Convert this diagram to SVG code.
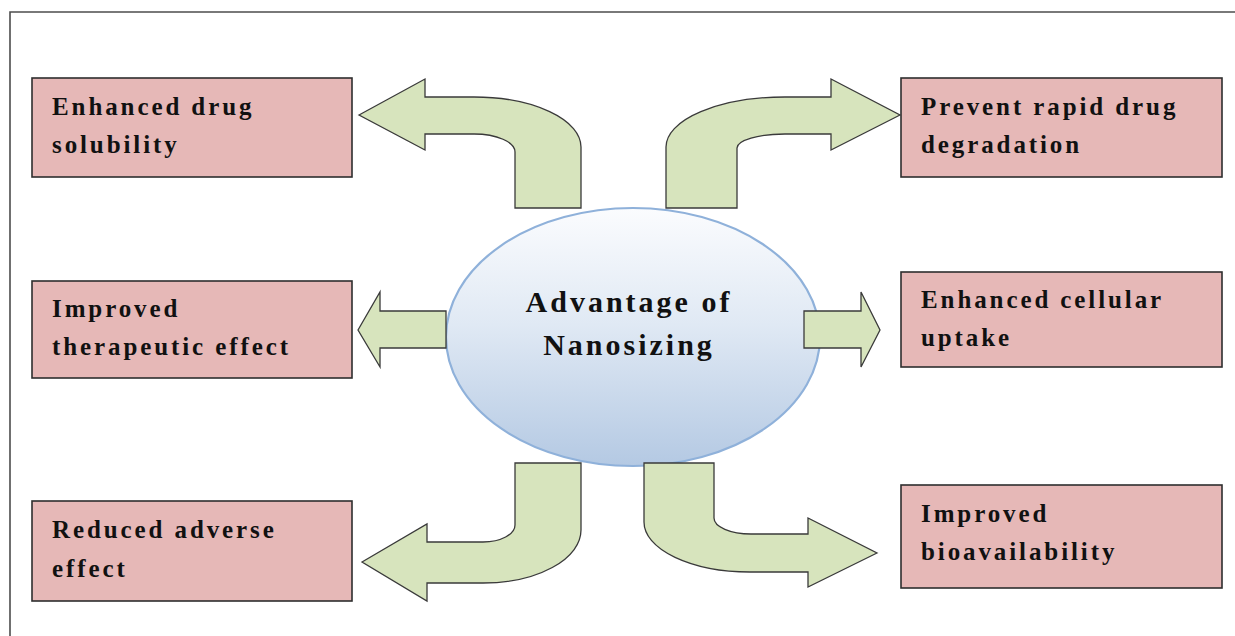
<svg xmlns="http://www.w3.org/2000/svg" width="1235" height="636" viewBox="0 0 1235 636">
  <defs>
    <linearGradient id="hubFill" x1="0" y1="0" x2="0" y2="1">
      <stop offset="0" stop-color="#fbfcfe"/>
      <stop offset="0.45" stop-color="#e0e9f4"/>
      <stop offset="1" stop-color="#b4c9e3"/>
    </linearGradient>
    <style>
      .frame { fill: none; stroke: #4d4d4d; stroke-width: 1.6; }
      .box { fill: #e6b8b7; stroke: #2e2e2e; stroke-width: 1.6; }
      .label { font-family: "Liberation Serif", "Times New Roman", serif; font-weight: bold; font-size: 25px; letter-spacing: 2.9px; fill: #111; }
      .hub { fill: url(#hubFill); stroke: #8fb1da; stroke-width: 2.2; }
      .hubText { font-family: "Liberation Serif", "Times New Roman", serif; font-weight: bold; font-size: 30px; letter-spacing: 3px; fill: #111; text-anchor: middle; }
      .arrow { fill: #d7e4bd; stroke: #3a3a3a; stroke-width: 1.3; stroke-linejoin: miter; }
    </style>
  </defs>

  <rect width="1235" height="636" fill="#ffffff"/>

  <!-- open frame: top and left rules -->
  <path class="frame" d="M10,636 L10,12 L1235,12"/>

  <!-- central hub -->
  <g id="hub">
    <ellipse class="hub" cx="633" cy="337" rx="187" ry="129"/>
  </g>

  <!-- block arrows from the hub to each benefit -->
  <g id="connectors">
    <path class="arrow" d="M359,115 L425,79 L425,97 L474,97 A107,50 0 0 1 581,147 L581,208 L515,208 L515,152 A41,18 0 0 0 474,134 L425,134 L425,150 Z"/>
    <path class="arrow" d="M900,115 L831,150 L831,134 L785,134 A48,14 0 0 0 737,148 L737,208 L666,208 L666,147 A119,50 0 0 1 785,97 L831,97 L831,79 Z"/>
    <path class="arrow" d="M358,330 L380,292 L380,311 L446,311 L446,348 L380,348 L380,367 Z"/>
    <path class="arrow" d="M880,330 L861,367 L861,348 L804,348 L804,311 L861,311 L861,292 Z"/>
    <path class="arrow" d="M362,562 L427,524 L427,542 L483,542 A32,17 0 0 0 515,525 L515,463 L581,463 L581,530 A98,53 0 0 1 483,583 L427,583 L427,601 Z"/>
    <path class="arrow" d="M877,553 L808,587 L808,572 L750,572 A106,50 0 0 1 644,522 L644,463 L714,463 L714,518 A37,16 0 0 0 751,534 L808,534 L808,518 Z"/>
  </g>

  <g id="hub-label">
    <text class="hubText" x="629" y="312">Advantage of</text>
    <text class="hubText" x="629" y="355">Nanosizing</text>
  </g>

  <g id="solubility">
    <rect class="box" x="32" y="78" width="320" height="99"/>
    <text class="label" x="52" y="115">Enhanced drug</text>
    <text class="label" x="52" y="153">solubility</text>
  </g>

  <g id="degradation">
    <rect class="box" x="901" y="78" width="321" height="99"/>
    <text class="label" x="921" y="115">Prevent rapid drug</text>
    <text class="label" x="921" y="153">degradation</text>
  </g>

  <g id="therapeutic">
    <rect class="box" x="32" y="281" width="320" height="97"/>
    <text class="label" x="52" y="317">Improved</text>
    <text class="label" x="52" y="355">therapeutic effect</text>
  </g>

  <g id="uptake">
    <rect class="box" x="901" y="272" width="321" height="95"/>
    <text class="label" x="921" y="308">Enhanced cellular</text>
    <text class="label" x="921" y="346">uptake</text>
  </g>

  <g id="adverse">
    <rect class="box" x="32" y="501" width="320" height="100"/>
    <text class="label" x="52" y="538">Reduced adverse</text>
    <text class="label" x="52" y="577">effect</text>
  </g>

  <g id="bioavailability">
    <rect class="box" x="901" y="485" width="321" height="103"/>
    <text class="label" x="921" y="522">Improved</text>
    <text class="label" x="921" y="560">bioavailability</text>
  </g>
</svg>
